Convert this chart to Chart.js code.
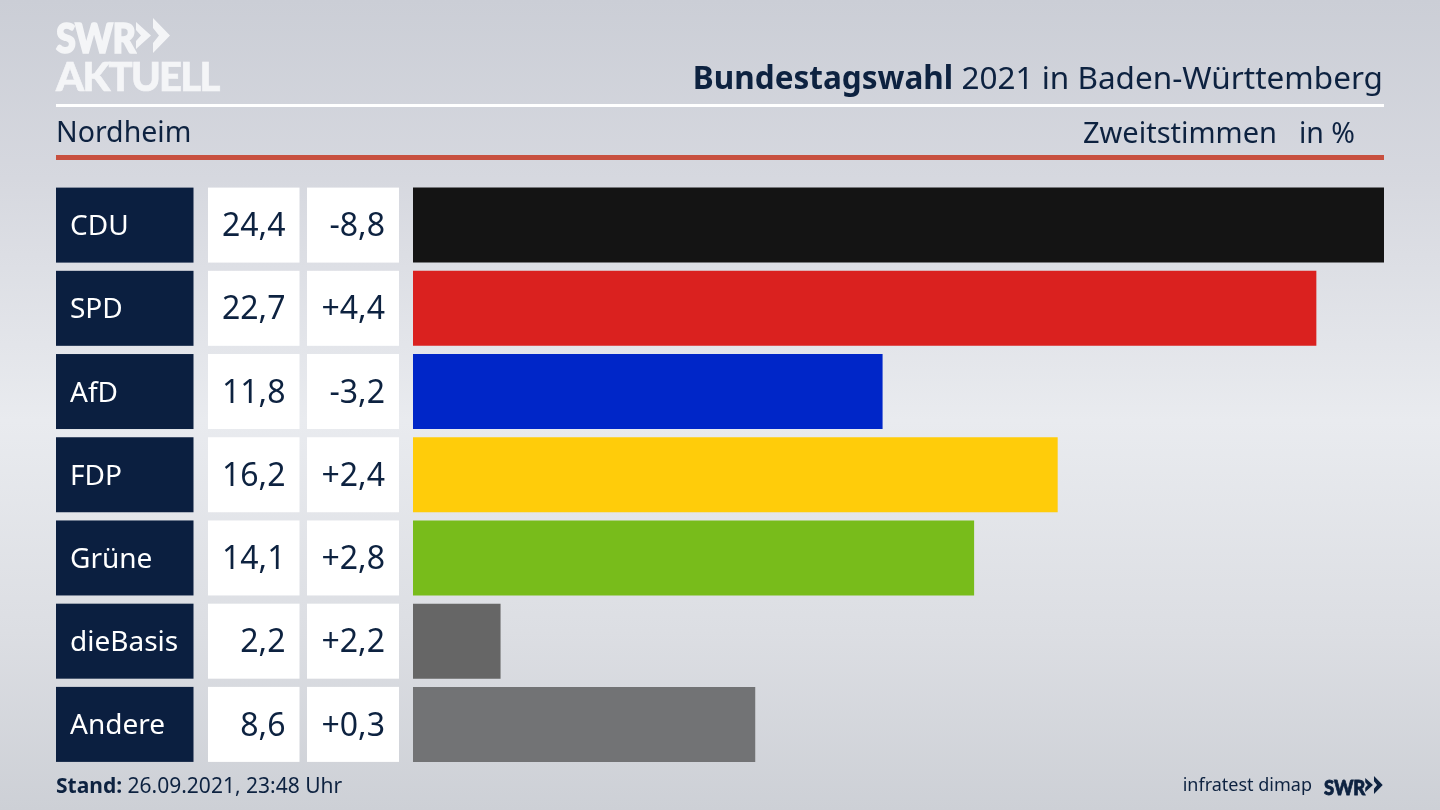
<!DOCTYPE html>
<html lang="de">
<head>
<meta charset="utf-8">
<title>Bundestagswahl 2021 in Baden-Württemberg – Nordheim</title>
<script src="https://cdn.jsdelivr.net/npm/chart.js@4"></script>
<style>
html,body{margin:0;padding:0;width:1440px;height:810px;overflow:hidden}
body{position:relative;background:linear-gradient(180deg,#cbced6 0%,#d6d8df 22%,#e9ebef 52%,#dcdee3 78%,#cdd0d6 100%);font-family:"Noto Sans",sans-serif;color:#0d2240}
canvas{position:absolute;left:0;top:0}
.t{position:absolute;white-space:nowrap;line-height:1}
.rule{position:absolute;left:56px;width:1328px}
</style>
</head>
<body>
<canvas id="c" width="1440" height="810"></canvas>
<div class="t" style="left:56px;top:13px;font:900 41px Lato,sans-serif;color:#f4f5f7;letter-spacing:-.8px;-webkit-text-stroke:1.6px #f4f5f7;transform:scaleX(.88);transform-origin:0 0">SWR</div>
<svg style="position:absolute;left:136px;top:18px" width="36" height="35" viewBox="0 0 36 35"><path fill="#f4f5f7" d="M0 4L15 17.500L0 31L0 23L5 17.500L0 12zM17 0L34 17.500L17 35L17 25L23 17.500L17 10z"/></svg>
<div class="t" style="left:56px;top:52px;font:900 40px Lato,sans-serif;color:#f4f5f7;letter-spacing:-1.7px;-webkit-text-stroke:.6px #f4f5f7">AKTUELL</div>
<div class="t" style="right:57px;top:61px;font-size:31.500px;"><b>Bundestagswahl</b> 2021 in Baden-Württemberg</div>
<div class="rule" style="top:104px;height:3px;background:#fff"></div>
<div class="t" style="left:56px;top:117px;font-size:28.500px">Nordheim</div>
<div class="t" style="right:163px;top:117px;font-size:29px">Zweitstimmen</div>
<div class="t" style="right:85px;top:118px;font-size:28.500px">in %</div>
<div class="rule" style="top:155px;height:5px;background:#c8503f"></div>
<div class="t" style="left:56px;top:775px;font-size:21px"><b>Stand:</b> 26.09.2021, 23:48 Uhr</div>
<div class="t" style="right:128px;top:775px;font-size:18px">infratest dimap</div>
<div class="t" style="left:1324px;top:774px;font:900 21px Lato,sans-serif;color:#0d2240;letter-spacing:-.2px;-webkit-text-stroke:.8px #0d2240;transform:scaleX(.88);transform-origin:0 0">SWR</div>
<svg style="position:absolute;left:1365px;top:776px" width="19" height="18" viewBox="0 0 36 35"><path fill="#0d2240" d="M0 4L15 17.500L0 31L0 23L5 17.500L0 12zM17 0L34 17.500L17 35L17 25L23 17.500L17 10z"/></svg>
<script>
const parties = ["CDU","SPD","AfD","FDP","Grüne","dieBasis","Andere"];
const shares = [24.4,22.7,11.8,16.2,14.1,2.2,8.6];
const shareLabels = ["24,4","22,7","11,8","16,2","14,1","2,2","8,6"];
const changeLabels = ["-8,8","+4,4","-3,2","+2,4","+2,8","+2,2","+0,3"];
const barColors = ["#141414","#da211f","#0026c8","#ffcc0a","#78bc1b","#666666","#727375"];

const NAVY = "#0b1f40";
const BAR_H = 75;
const cells = {
  id: "cells",
  beforeDraw(chart) {
    const {ctx, scales:{y}} = chart;
    ctx.save();
    parties.forEach((p,i) => {
      const top = y.getPixelForValue(i) - BAR_H/2;
      ctx.fillStyle = NAVY; ctx.fillRect(56, top, 137.500, BAR_H);
      ctx.fillStyle = "#fff";
      ctx.fillRect(208, top, 91.500, BAR_H);
      ctx.fillRect(307, top, 92, BAR_H);
      ctx.fillStyle = "#0d2240";
      ctx.font = '32px "Noto Sans", sans-serif';
      ctx.textAlign = "right"; ctx.textBaseline = "middle";
      ctx.fillText(shareLabels[i], 285.5, top + BAR_H/2 + 2);
      ctx.fillText(changeLabels[i], 385, top + BAR_H/2 + 2);
    });
    ctx.restore();
  }
};

new Chart(document.getElementById("c"), {
  type: "bar",
  data: { labels: parties, datasets: [{ data: shares, backgroundColor: barColors, borderWidth: 0,
    categoryPercentage: 1, barPercentage: BAR_H/83.2 }] },
  options: {
    indexAxis: "y", responsive: false, animation: false,
    layout: { padding: { left: 70, right: 56, top: 183.5, bottom: 44 } },
    plugins: { legend: {display:false}, tooltip: {enabled:false} },
    scales: {
      x: { display: false, min: 0, max: 24.4 },
      y: { grid: {display:false}, border: {display:false},
        afterFit(s){ s.width = 343; },
        ticks: { color: "#ffffff", crossAlign: "far", padding: 0, labelOffset: 2,
          font: { family: '"Noto Sans", sans-serif', size: 28 } } }
    }
  },
  plugins: [cells]
});
</script>
</body>
</html>
